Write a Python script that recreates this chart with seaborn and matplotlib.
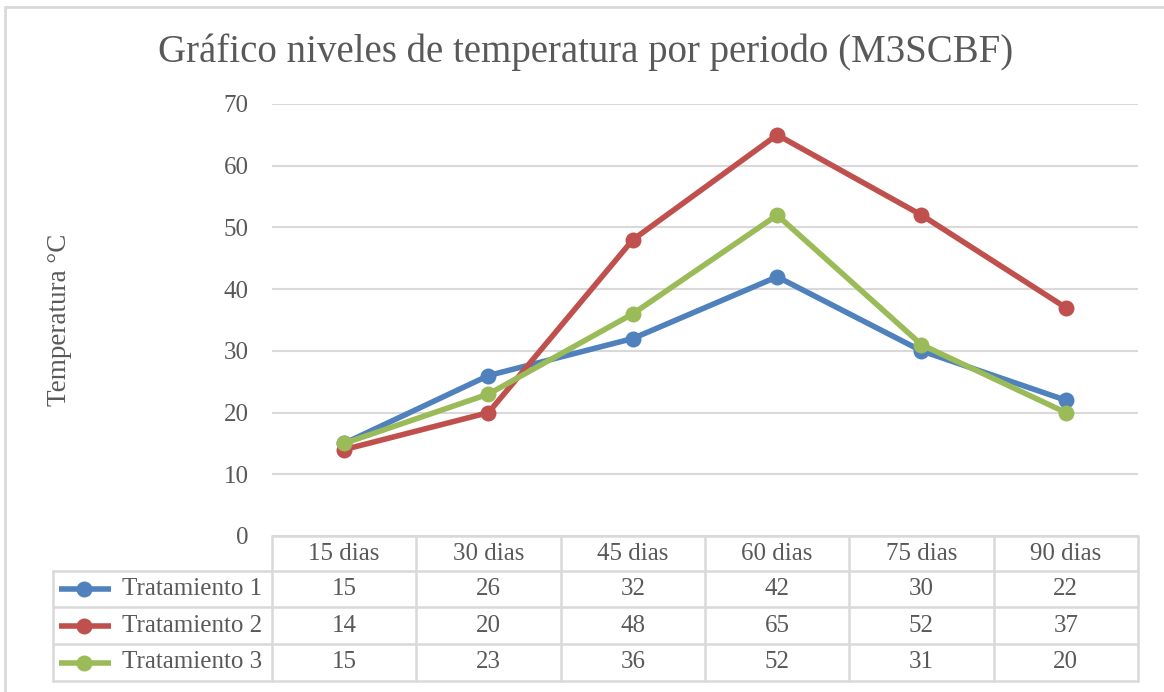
import matplotlib
matplotlib.use("Agg")
import matplotlib.pyplot as plt
from matplotlib.lines import Line2D
import seaborn as sns
import pandas as pd

# Data
periodos = ["15 dias", "30 dias", "45 dias", "60 dias", "75 dias", "90 dias"]
tratamiento_1 = [15, 26, 32, 42, 30, 22]
tratamiento_2 = [14, 20, 48, 65, 52, 37]
tratamiento_3 = [15, 23, 36, 52, 31, 20]
series_names = ["Tratamiento 1", "Tratamiento 2", "Tratamiento 3"]
series_values = [tratamiento_1, tratamiento_2, tratamiento_3]
colors = ["#4F81BD", "#C0504D", "#9BBB59"]
y_ticks = [0, 10, 20, 30, 40, 50, 60, 70]

title = "Gráfico niveles de temperatura por periodo (M3SCBF)"
ylabel = "Temperatura °C"

sns.set_theme(style="white")
plt.rcParams["font.family"] = ["Liberation Serif", "DejaVu Serif"]
TXT = "#595959"
GRID = "#D9D9D9"
FS = 18

W, H = 1164, 692
fig = plt.figure(figsize=(W / 100, H / 100), dpi=100)

def fx(px):
    return px / W

def fy(py):
    return 1 - py / H

# plot area in pixel coordinates
L, R, T, B = 272, 1138, 104, 536
ax = fig.add_axes([fx(L), fy(B), fx(R) - fx(L), fy(T) - fy(B)])

df = pd.DataFrame({
    "x": list(range(len(periodos))) * len(series_names),
    "valor": [v for vals in series_values for v in vals],
    "serie": [n for n in series_names for _ in periodos],
})
sns.lineplot(data=df, x="x", y="valor", hue="serie", palette=colors,
             marker="o", markersize=11.5, linewidth=4, markeredgewidth=0,
             legend=False, ax=ax, zorder=3)

ax.set_xlim(-0.5, len(periodos) - 0.5)
ax.set_ylim(0, 70)
ax.set_yticks(y_ticks)
ax.set_yticklabels([str(t) for t in y_ticks], color=TXT, fontsize=FS)
ax.tick_params(axis="y", length=0, pad=17)
ax.set_xticks([])
ax.set_xlabel("")
ax.set_ylabel("")
for s in ax.spines.values():
    s.set_visible(False)
ax.yaxis.grid(True, color=GRID, linewidth=1.5)
ax.set_axisbelow(True)

# Title and axis label
fig.text(fx(586), fy(52), title, ha="center", va="center",
         fontsize=28, color=TXT)
fig.text(fx(60), fy(320), ylabel, ha="center", va="center",
         rotation=90, fontsize=19.5, color=TXT)

# Outer chart border
for seg in [((5, 1164), (7, 7)), ((5, 5), (7, 692))]:
    fig.add_artist(Line2D([fx(seg[0][0]), fx(seg[0][1])],
                          [fy(seg[1][0]), fy(seg[1][1])],
                          color=GRID, linewidth=2))

# Data table below the plot
col_w = (R - L) / len(periodos)
row_edges = [B, 571, 607, 644, 681]
LEG_L = 53

def hline(x0, x1, y):
    fig.add_artist(Line2D([fx(x0), fx(x1)], [fy(y), fy(y)],
                          color=GRID, linewidth=1.8))

def vline(x, y0, y1):
    fig.add_artist(Line2D([fx(x), fx(x)], [fy(y0), fy(y1)],
                          color=GRID, linewidth=1.8))

hline(L, R, row_edges[0])
for y in row_edges[1:]:
    hline(LEG_L, R, y)
vline(LEG_L, row_edges[1], row_edges[-1])
for i in range(len(periodos) + 1):
    vline(L + i * col_w, row_edges[0], row_edges[-1])

# header row
hy = (row_edges[0] + row_edges[1]) / 2
for i, p in enumerate(periodos):
    fig.text(fx(L + (i + 0.5) * col_w), fy(hy), p, ha="center",
             va="center", fontsize=FS, color=TXT)

# value rows with legend keys
for r, (name, vals, c) in enumerate(zip(series_names, series_values, colors)):
    cy = (row_edges[r + 1] + row_edges[r + 2]) / 2
    fig.add_artist(Line2D([fx(59), fx(111)], [fy(cy), fy(cy)], color=c,
                          linewidth=4, solid_capstyle="butt"))
    fig.add_artist(Line2D([fx(84)], [fy(cy)], color=c, marker="o",
                          markersize=11.5, markeredgewidth=0))
    fig.text(fx(122), fy(cy), name, ha="left", va="center",
             fontsize=FS, color=TXT)
    for i, v in enumerate(vals):
        fig.text(fx(L + (i + 0.5) * col_w), fy(cy), str(v), ha="center",
                 va="center", fontsize=FS, color=TXT)

fig.savefig("out.png", dpi=100, facecolor="white")
